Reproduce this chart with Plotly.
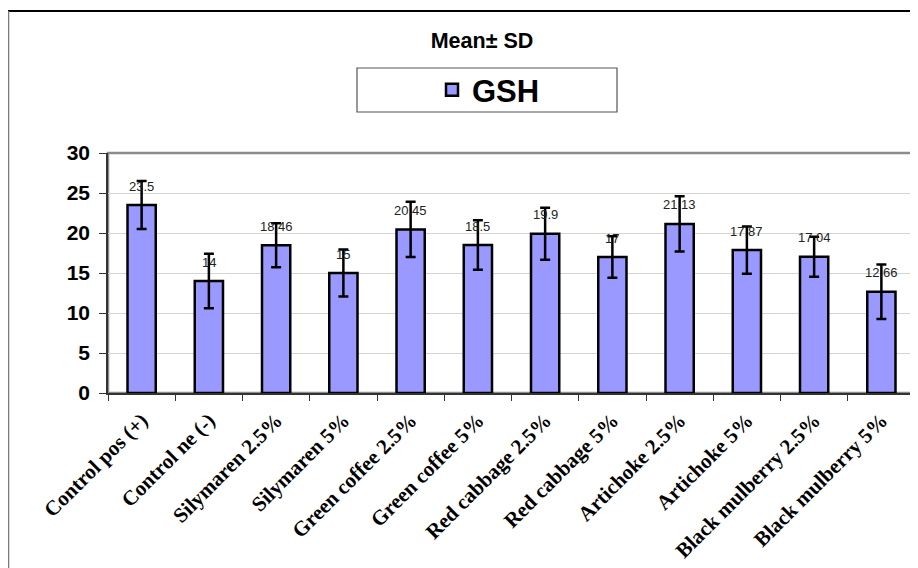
import plotly.graph_objects as go

categories = ["Control pos (+)", "Control ne (-)", "Silymaren 2.5%", "Silymaren 5%",
              "Green coffee 2.5%", "Green coffee 5%", "Red cabbage 2.5%", "Red cabbage 5%",
              "Artichoke 2.5%", "Artichoke 5%", "Black mulberry 2.5%", "Black mulberry 5%"]
gsh_mean = [23.5, 14, 18.46, 15, 20.45, 18.5, 19.9, 17, 21.13, 17.87, 17.04, 12.66]
gsh_sd = [3.0, 3.4, 2.75, 2.95, 3.45, 3.1, 3.25, 2.6, 3.45, 2.95, 2.5, 3.4]
label_text = ["23.5", "14", "18.46", "15", "20.45", "18.5", "19.9", "17", "21.13", "17.87", "17.04", "12.66"]

W, H = 918, 568
OFF = 8  # page body margin offset
L, T = 100, 145
pw, ph = 807, 240
R = W - L - pw
B = H - T - ph

def px_x(p):
    return (p - OFF - L) / pw

def px_y(p):
    return (T + ph + OFF - p) / ph

fig = go.Figure()
fig.add_trace(go.Bar(
    x=categories, y=gsh_mean, name="GSH",
    marker=dict(color="#9999FF", line=dict(color="black", width=2.5)),
    error_y=dict(type="data", array=gsh_sd, visible=True, color="black", thickness=2.5, width=5),
))

for c, v, t in zip(categories, gsh_mean, label_text):
    fig.add_annotation(x=c, y=v, text=t, showarrow=False, yanchor="middle", yshift=19,
                       font=dict(family="Liberation Sans, Arial", size=13, color="#222222"))

# plot area frame (gray)
fig.add_shape(type="rect", xref="paper", yref="paper", x0=0, x1=1, y0=0, y1=1,
              line=dict(color="#8c8c8c", width=2.5), layer="below")
# legend box
fig.add_shape(type="rect", xref="paper", yref="paper",
              x0=px_x(357), x1=px_x(617), y0=px_y(112), y1=px_y(68),
              line=dict(color="#555555", width=1.2), fillcolor="white")
# chart outer border
fig.add_shape(type="line", xref="paper", yref="paper",
              x0=px_x(8), x1=px_x(930), y0=px_y(11), y1=px_y(11),
              line=dict(color="black", width=2))
fig.add_shape(type="line", xref="paper", yref="paper",
              x0=px_x(8), x1=px_x(8), y0=px_y(11), y1=px_y(580),
              line=dict(color="#7a7a7a", width=2.5))

fig.update_layout(
    width=W, height=H,
    margin=dict(l=L, r=R, t=T, b=B, autoexpand=False),
    paper_bgcolor="white", plot_bgcolor="white",
    bargap=0.58,
    showlegend=True,
    legend=dict(x=px_x(432), y=px_y(90), xanchor="left", yanchor="middle",
                font=dict(family="Liberation Sans, Arial", size=31, color="black", weight="bold"),
                bgcolor="rgba(0,0,0,0)", borderwidth=0),
    title=dict(text="<b>Mean± SD</b>", x=(482 - OFF) / W, y=1 - (40 - OFF) / H,
               xanchor="center", yanchor="middle",
               font=dict(family="Liberation Sans, Arial", size=21.5, color="black")),
    xaxis=dict(type="category", tickangle=-45, tickson="boundaries", ticks="outside", ticklen=6,
               tickcolor="#333333", showline=True, linecolor="#333333", linewidth=1.5,
               showgrid=False, automargin=False, ticklabelstandoff=5,
               tickfont=dict(family="Liberation Serif, Times New Roman", size=21, color="black",
                             weight="bold")),
    yaxis=dict(range=[0, 30], dtick=5, ticks="outside", ticklen=7, tickcolor="#333333",
               showline=True, linecolor="#333333", linewidth=1.5, zeroline=False,
               showgrid=True, gridcolor="#d4d4d4", gridwidth=1.2, automargin=False,
               ticklabelstandoff=5,
               tickfont=dict(family="Liberation Sans, Arial", size=21, color="black", weight="bold")),
)

fig.write_html("out.html")
